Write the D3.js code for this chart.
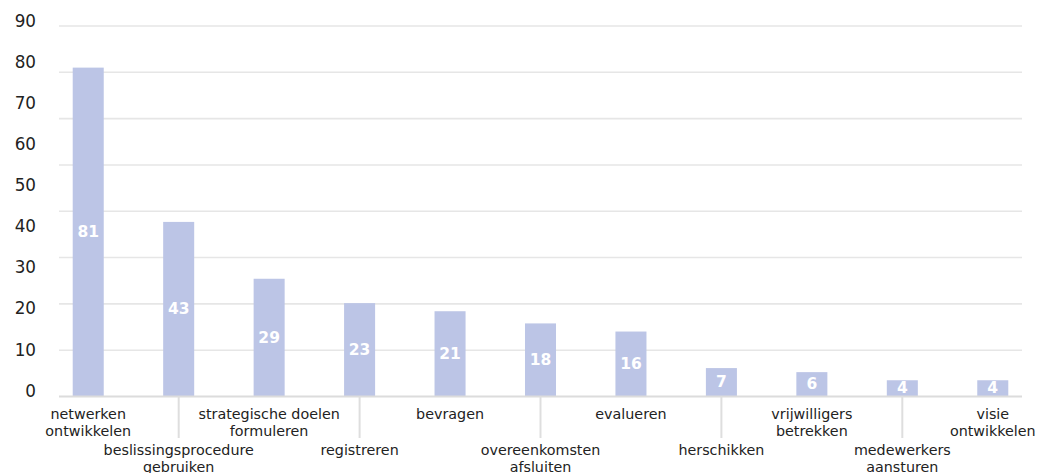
<!DOCTYPE html>
<html>
<head>
<meta charset="utf-8">
<script src="https://cdn.jsdelivr.net/npm/d3@7"></script>
<style>
  html, body { margin: 0; padding: 0; background: #fff; }
  svg { display: block; font-family: "DejaVu Sans", sans-serif; }
</style>
</head>
<body>
<svg id="chart" width="1050" height="473"></svg>
<script>
// Categories (line breaks split the axis labels over two lines)
const categories = [
  "netwerken\nontwikkelen",
  "beslissingsprocedure\ngebruiken",
  "strategische doelen\nformuleren",
  "registreren",
  "bevragen",
  "overeenkomsten\nafsluiten",
  "evalueren",
  "herschikken",
  "vrijwilligers\nbetrekken",
  "medewerkers\naansturen",
  "visie\nontwikkelen"
];
const values = [81, 43, 29, 23, 21, 18, 16, 7, 6, 4, 4];
const yTickLabels = [0, 10, 20, 30, 40, 50, 60, 70, 80, 90];
const yMax = 91.25;
const gridDivisions = 8;

const svg = d3.select("#chart");
const barColor = "#bcc5e6";
const gridColor = "#e6e6e6";
const textColor = "#222";

const x = d3.scaleBand()
  .domain(categories)
  .range([43, 1038])
  .paddingInner(0.657)
  .paddingOuter(0.3285);

const y = d3.scaleLinear().domain([0, yMax]).range([396.5, 26]);
const yLabel = d3.scaleLinear().domain([0, 90]).range([390.7, 20.7]);

const plotLeft = 59, plotRight = 1022;

// horizontal gridlines
const gridValues = d3.range(1, gridDivisions + 1).map(i => yMax * i / gridDivisions);
svg.append("g").selectAll("line").data(gridValues).join("line")
  .attr("x1", plotLeft).attr("x2", plotRight)
  .attr("y1", d => y(d)).attr("y2", d => y(d))
  .attr("stroke", gridColor).attr("stroke-width", 1.6);

// y-axis labels
svg.append("g").selectAll("text").data(yTickLabels).join("text")
  .attr("x", 36).attr("y", d => yLabel(d))
  .attr("text-anchor", "end").attr("dominant-baseline", "central")
  .attr("fill", textColor).attr("font-size", 16.8)
  .text(d => d);

// bars
svg.append("g").selectAll("rect").data(values).join("rect")
  .attr("x", (d, i) => x(categories[i]))
  .attr("width", x.bandwidth())
  .attr("y", d => y(d))
  .attr("height", d => y(0) - y(d))
  .attr("fill", barColor);

// baseline
svg.append("line")
  .attr("x1", plotLeft).attr("x2", plotRight)
  .attr("y1", y(0)).attr("y2", y(0))
  .attr("stroke", "#dcdcdc").attr("stroke-width", 2.2);

// value labels
svg.append("g").selectAll("text").data(values).join("text")
  .attr("x", (d, i) => x(categories[i]) + x.bandwidth() / 2)
  .attr("y", d => (y(d) + y(0)) / 2)
  .attr("text-anchor", "middle").attr("dominant-baseline", "central")
  .attr("fill", "#fff").attr("font-weight", "bold").attr("font-size", 15.5)
  .text(d => d);

// tick lines for the lower row of labels
const lowerRow = categories.filter((c, i) => i % 2 === 1);
svg.append("g").selectAll("line").data(lowerRow).join("line")
  .attr("x1", d => x(d) + x.bandwidth() / 2).attr("x2", d => x(d) + x.bandwidth() / 2)
  .attr("y1", y(0)).attr("y2", 438)
  .attr("stroke", "#dedede").attr("stroke-width", 2);

// category labels, alternating between two rows
const lineHeight = 16.5;
const catLabels = svg.append("g").selectAll("text").data(categories).join("text")
  .attr("text-anchor", "middle")
  .attr("fill", textColor).attr("font-size", 14.3)
  .attr("transform", (d, i) => {
    const cx = x(d) + x.bandwidth() / 2;
    const top = i % 2 === 0 ? 414 : 450;
    return `translate(${cx},${top})`;
  });
catLabels.selectAll("tspan").data(d => d.split("\n")).join("tspan")
  .attr("x", 0)
  .attr("y", (d, j) => j * lineHeight)
  .attr("dominant-baseline", "central")
  .text(d => d);
</script>
</body>
</html>
